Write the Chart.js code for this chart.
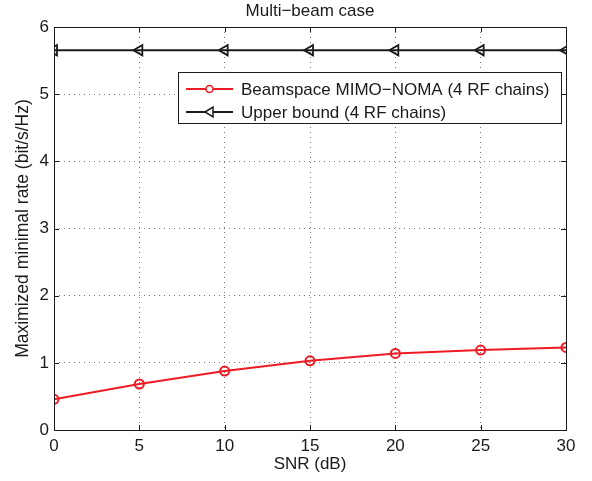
<!DOCTYPE html>
<html><head><meta charset="utf-8">
<script src="https://cdn.jsdelivr.net/npm/chart.js@4.4.1/dist/chart.umd.min.js"></script>
<style>html,body{margin:0;padding:0;background:#fff}#wrap{width:592px;height:481px}</style>
</head><body><div id="wrap"><canvas id="c" width="592" height="481"></canvas></div>
<script>
const snr = [0, 5, 10, 15, 20, 25, 30];
const noma = [0.457, 0.685, 0.878, 1.03, 1.14, 1.19, 1.23];
const upper = [5.655, 5.655, 5.655, 5.655, 5.655, 5.655, 5.655];
const xTicks = [0, 5, 10, 15, 20, 25, 30];
const yTicks = [0, 1, 2, 3, 4, 5, 6];
const labels = ['Beamspace MIMO\u2212NOMA (4 RF chains)', 'Upper bound (4 RF chains)'];
const titleText = 'Multi\u2212beam case';
const FONT = '"Liberation Sans", Arial, Helvetica, sans-serif';
const RED = '#ed1c24', BLK = '#1a1a1a';

const boxPlugin = {
  id: 'box',
  afterDraw(chart) {
    const {ctx, chartArea: a, scales: {x, y}} = chart;
    ctx.save();
    ctx.strokeStyle = BLK; ctx.lineWidth = 1;
    ctx.beginPath();
    xTicks.forEach(v => { const px = Math.round(x.getPixelForValue(v)) + 0.5;
      ctx.moveTo(px, a.bottom); ctx.lineTo(px, a.bottom - 5);
      ctx.moveTo(px, a.top); ctx.lineTo(px, a.top + 5); });
    yTicks.forEach(v => { const py = Math.round(y.getPixelForValue(v)) + 0.5;
      ctx.moveTo(a.left, py); ctx.lineTo(a.left + 5, py);
      ctx.moveTo(a.right, py); ctx.lineTo(a.right - 5, py); });
    ctx.stroke();
    ctx.strokeRect(Math.round(a.left) + 0.5, Math.round(a.top) + 0.5, Math.round(a.right - a.left), Math.round(a.bottom - a.top));
    // title centred over the plot area
    ctx.font = '17px ' + FONT; ctx.fillStyle = BLK; ctx.textAlign = 'center'; ctx.textBaseline = 'middle';
    ctx.fillText(titleText, (a.left + a.right) / 2, 11);
    ctx.restore();
  },
  afterDatasetsDraw(chart) {
    const {ctx} = chart;
    const bx = 178.5, by = 72.5, bw = 383, bh = 51;
    ctx.save();
    ctx.fillStyle = '#fff'; ctx.fillRect(bx, by, bw, bh);
    ctx.strokeStyle = BLK; ctx.lineWidth = 1; ctx.strokeRect(bx, by, bw, bh);
    ctx.font = '17px ' + FONT; ctx.textBaseline = 'middle'; ctx.fillStyle = BLK;
    const rows = [89, 112];
    chart.data.datasets.forEach((ds, i) => {
      const yy = rows[i];
      ctx.strokeStyle = ds.borderColor; ctx.lineWidth = 2;
      ctx.beginPath(); ctx.moveTo(186, yy); ctx.lineTo(233, yy); ctx.stroke();
      ctx.lineWidth = 1.5;
      if (i === 0) { ctx.beginPath(); ctx.arc(209.5, yy, 3.5, 0, Math.PI * 2); ctx.fillStyle = '#fff'; ctx.fill(); ctx.stroke(); }
      else { ctx.beginPath(); ctx.moveTo(205, yy); ctx.lineTo(213, yy - 5); ctx.lineTo(213, yy + 5); ctx.closePath(); ctx.fillStyle = '#fff'; ctx.fill(); ctx.stroke(); }
      ctx.fillStyle = BLK; ctx.fillText(ds.label, 241, yy + 1);
    });
    ctx.restore();
  }
};

new Chart(document.getElementById('c'), {
  type: 'line',
  data: {
    datasets: [
      { label: labels[0], data: snr.map((s, i) => ({x: s, y: noma[i]})), borderColor: RED, backgroundColor: '#fff',
        borderWidth: 2, pointStyle: 'circle', pointRadius: 4.5, pointBorderWidth: 2, pointBorderColor: RED, pointBackgroundColor: 'rgba(0,0,0,0)' },
      { label: labels[1], data: snr.map((s, i) => ({x: s, y: upper[i]})), borderColor: BLK, backgroundColor: '#fff',
        borderWidth: 2, pointStyle: 'triangle', pointRotation: -90, pointRadius: 6, pointBorderWidth: 1.8, pointBorderColor: BLK, pointBackgroundColor: 'rgba(0,0,0,0)' }
    ]
  },
  options: {
    responsive: false, animation: false, devicePixelRatio: 1,
    layout: { padding: { left: 0, right: 26, top: 27, bottom: 0 } },
    plugins: { legend: { display: false }, tooltip: { enabled: false }, title: { display: false } },
    scales: {
      x: { type: 'linear', min: 0, max: 30,
        afterFit: s => { s.height = 51; },
        afterBuildTicks: s => { s.ticks = xTicks.map(v => ({value: v})); },
        border: { display: false, dash: [1, 4] },
        grid: { drawTicks: false, color: '#777', lineWidth: 1 },
        ticks: { color: BLK, padding: 6, font: { family: FONT, size: 17 }, maxRotation: 0 },
        title: { display: true, text: 'SNR (dB)', color: BLK, font: { family: FONT, size: 17 }, padding: { top: 6, bottom: 6 } }
      },
      y: { type: 'linear', min: 0, max: 6,
        afterFit: s => { s.width = 54; },
        afterBuildTicks: s => { s.ticks = yTicks.map(v => ({value: v})); },
        border: { display: false, dash: [1, 4] },
        grid: { drawTicks: false, color: '#777', lineWidth: 1 },
        ticks: { color: BLK, padding: 5, font: { family: FONT, size: 17 } },
        title: { display: true, text: 'Maximized minimal rate (bit/s/Hz)', color: BLK, font: { family: FONT, size: 17.5 }, padding: { top: 13, bottom: 13 } }
      }
    }
  },
  plugins: [boxPlugin]
});
</script></body></html>
